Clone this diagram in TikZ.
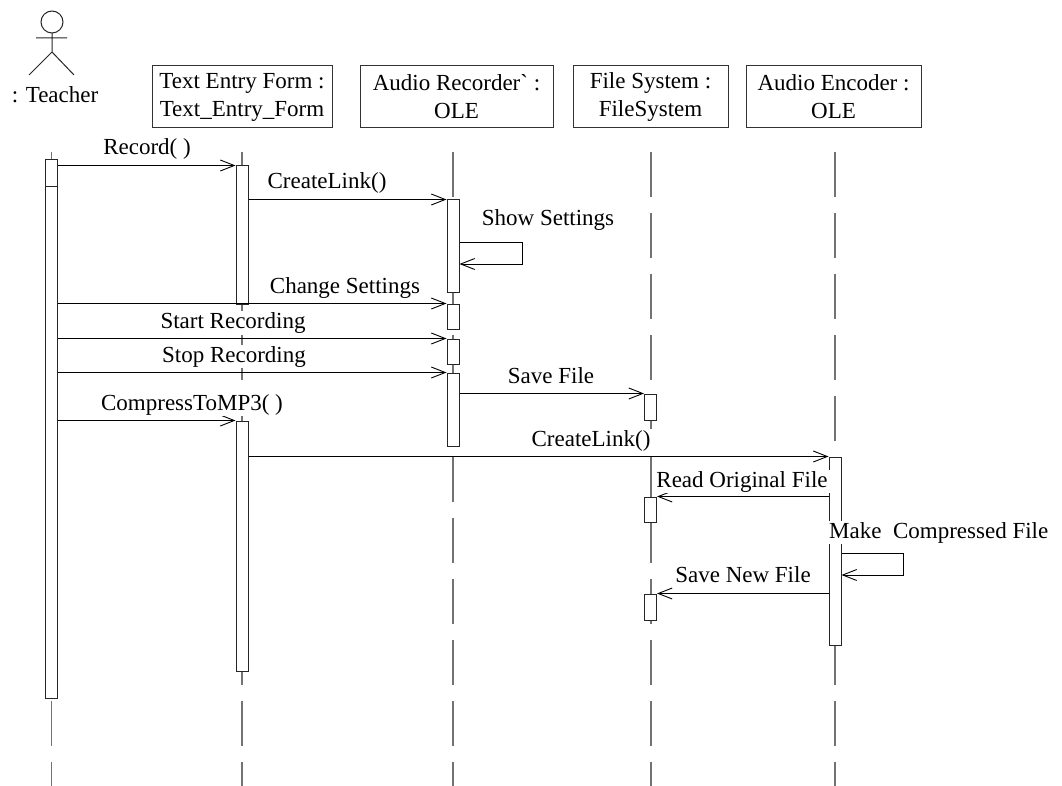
\documentclass[tikz,border=0pt]{standalone}
\usepackage{fontspec}
\setmainfont{Liberation Serif}
\usetikzlibrary{arrows.meta,calc}
% activation bar: name, x, top, bottom
\newcommand\mkbar[4]{\node[actbar, minimum height={#4-#3}] (#1) at (#2,{(#3+#4)/2}) {};}
\begin{document}
\begin{tikzpicture}[x=1pt,y=-1pt,
  every node/.style={font=\fontsize{23}{28}\selectfont},
  objbox/.style={draw=black!80, line width=1pt, minimum height=62pt, align=center, inner sep=0pt},
  lifeline/.style={draw=black!55, line width=1.2pt, dash pattern=on 45pt off 16pt},
  actbar/.style={draw=black!85, fill=white, line width=1pt, minimum width=12pt, inner sep=0pt},
  msg/.style={draw=black, line width=0.9pt, -{Straight Barb[length=14pt,width=11pt,line width=0.9pt]}},
  msglabel/.style={fill=white, inner xsep=2pt, inner ysep=1pt, anchor=base},
]
\useasboundingbox (0,0) rectangle (1062,786);

% actor
\draw[line width=1pt, draw=black!85] (52,22) circle (11pt);
\draw[line width=1pt, draw=black!85] (52,33) -- (52,52) (36,38) -- (67,38)
  (29,75) -- (52,52) -- (74,75);
\node[anchor=base] (teacher) at (55,103) {: Teacher};

% object headers
\node[objbox, minimum width=180pt] (te) at (242,97) {Text Entry Form :\\Text\_Entry\_Form};
\node[objbox, minimum width=193pt] (ar) at (456.5,97) {Audio Recorder\textasciigrave{} :\\OLE};
\node[objbox, minimum width=155pt] (fs) at (650.5,97) {File System :\\FileSystem};
\node[objbox, minimum width=175pt] (ae) at (833.5,97) {Audio Encoder :\\OLE};

% lifelines
\foreach \lx in {51.5,242,453,651,835}
  \draw[lifeline] (\lx,152) -- (\lx,786);

% activation bars
\mkbar{tA1}{51.5}{160}{187}
\mkbar{tA2}{51.5}{187}{698}
\mkbar{te1}{242}{166}{304}
\mkbar{te2}{242}{421}{671}
\mkbar{ar1}{453}{200}{292}
\mkbar{ar2}{453}{304}{329}
\mkbar{ar3}{453}{339}{364}
\mkbar{ar4}{453}{373}{446}
\mkbar{fs1}{650.5}{394}{420}
\mkbar{fs2}{650.5}{497}{522}
\mkbar{fs3}{650.5}{594}{620}
\mkbar{ae1}{835}{457}{645}

% messages
\draw[msg] (tA1.east |- te1.north) -- (te1.north west);
\draw[msg] (te1.east |- ar1.north) -- (ar1.north west);
\draw[msg] (ar1.east |- 0,242) -- (522,242) -- (522,264) -- (ar1.east |- 0,264);
\draw[msg] (tA2.east |- ar2.north) -- (ar2.north west);
\draw[msg] (tA2.east |- ar3.north) -- (ar3.north west);
\draw[msg] (tA2.east |- ar4.north) -- (ar4.north west);
\draw[msg] (ar4.east |- fs1.north) -- (fs1.north west);
\draw[msg] (tA2.east |- te2.north) -- (te2.north west);
\draw[msg] (te2.east |- ae1.north) -- (ae1.north west);
\draw[msg] (ae1.west |- fs2.north) -- (fs2.north east);
\draw[msg] (ae1.east |- 0,553) -- (903,553) -- (903,575) -- (ae1.east |- 0,575);
\draw[msg] (ae1.west |- fs3.north) -- (fs3.north east);

% message labels
\node[msglabel] (l1) at (147,155) {Record( )};
\node[msglabel] (l2) at (327,189) {CreateLink()};
\node[msglabel] (l3) at (548,226) {Show Settings};
\node[msglabel] (l4) at (345,293) {Change Settings};
\node[msglabel] (l5) at (233,328) {Start Recording};
\node[msglabel] (l6) at (234,362) {Stop Recording};
\node[msglabel] (l7) at (551,383) {Save File};
\node[msglabel] (l8) at (192,410) {CompressToMP3( )};
\node[msglabel] (l9) at (591,446) {CreateLink()};
\node[msglabel] (l10) at (742,487) {Read Original File};
\node[msglabel, anchor=base west, inner xsep=0pt] (l11) at (829,538) {Make\ \ Compressed File};
\node[msglabel] (l12) at (743,582) {Save New File};
\end{tikzpicture}
\end{document}
